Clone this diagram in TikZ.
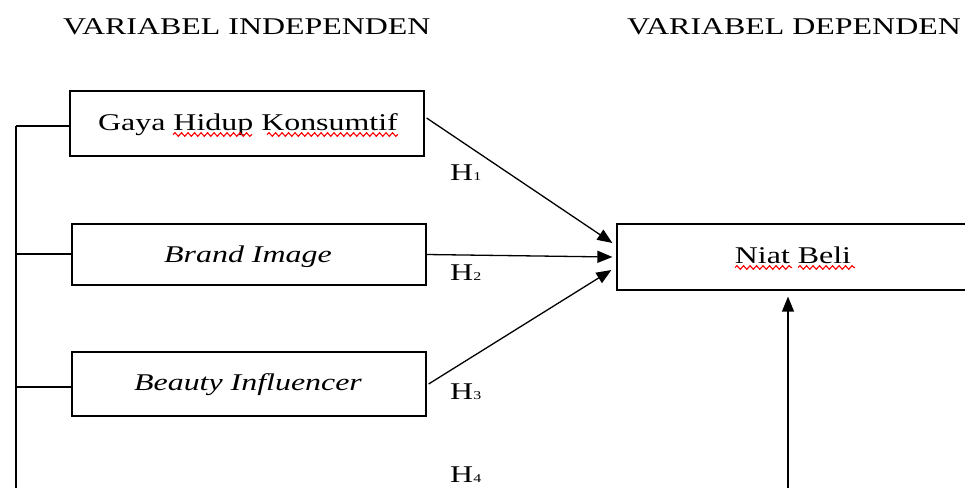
\documentclass[tikz,border=0pt]{standalone}
\usepackage{fontspec}
\setmainfont{Liberation Serif}[FakeStretch=1.33]
\usetikzlibrary{arrows.meta,decorations.pathmorphing,calc}
\begin{document}
\begin{tikzpicture}[x=1pt,y=-1pt,
  box/.style={draw,line width=1.2pt,rectangle,inner sep=0pt},
  conn/.style={line width=1.3pt},
  arr/.style={line width=1.3pt,-{Triangle[length=15pt,width=12pt]}},
  lbl/.style={anchor=base,inner sep=0pt,font=\fontsize{24}{26}\selectfont},
  head/.style={anchor=base west,inner sep=0pt,font=\fontsize{24}{26}\selectfont},
  hyp/.style={anchor=base west,inner sep=0pt,font=\fontsize{24}{26}\selectfont},
  wavy/.style={red,line width=1.1pt,decorate,decoration={snake,amplitude=1.8pt,segment length=6.5pt}}
]
\useasboundingbox (0,0) rectangle (965,488);
\clip (0,0) rectangle (965,488);

% headings
\node[head] (hi) at (63,34) {VARIABEL INDEPENDEN};
\node[head] (hd) at (627,34) {VARIABEL DEPENDEN};

% boxes
\node[box,minimum width=354pt,minimum height=65pt] (g) at (247,123.5) {};
\node[lbl] (gt) at (248,130) {Gaya Hidup Konsumtif};
\node[box,minimum width=354pt,minimum height=61pt] (b) at (249,254.5) {};
\node[lbl] (bt) at (248,262) {\itshape Brand Image};
\node[box,minimum width=354pt,minimum height=64pt] (i) at (249,384) {};
\node[lbl] (it) at (248,390) {\itshape Beauty Influencer};
\node[box,minimum width=363pt,minimum height=66pt] (niat) at (798.5,257) {};
\node[lbl] (nt) at (793,263) {Niat Beli};

% spell-check underlines
\draw[wavy] (173,134.5) -- (252,134.5);
\draw[wavy] (267,134.5) -- (398,134.5);
\draw[wavy] (735,267.5) -- (792,267.5);
\draw[wavy] (798,267.5) -- (855,267.5);

% hypothesis labels
\node[hyp] (h1) at (450,180) {H{\fontsize{12}{12}\selectfont 1}};
\node[hyp] (h2) at (450,280) {H{\fontsize{12}{12}\selectfont 2}};
\node[hyp] (h3) at (450,399) {H{\fontsize{12}{12}\selectfont 3}};
\node[hyp] (h4) at (450,482) {H{\fontsize{12}{12}\selectfont 4}};

% left bus
\coordinate (t1) at (16,126);
\coordinate (t2) at (16,254);
\coordinate (t3) at (16,387);
\coordinate (tb) at (16,488);
\draw[conn] (t1) -- (tb);
\draw[conn] (t1) -- (t1 -| g.west);
\draw[conn] (t2) -- (t2 -| b.west);
\draw[conn] (t3) -- (t3 -| i.west);

% arrows
\draw[arr] ([xshift=2pt,yshift=5.5pt]g.east) -- ([xshift=-4pt,yshift=14pt]niat.west);
\draw[arr] ([xshift=0pt]b.east) -- ([xshift=-4pt]niat.west);
\draw[arr] ([xshift=2pt]i.east) -- ([xshift=-5pt,yshift=-13pt]niat.west);
\coordinate (b4) at (788,488);
\draw[arr,shorten >=6pt] (b4) -- (b4 |- niat.south);
\end{tikzpicture}
\end{document}
